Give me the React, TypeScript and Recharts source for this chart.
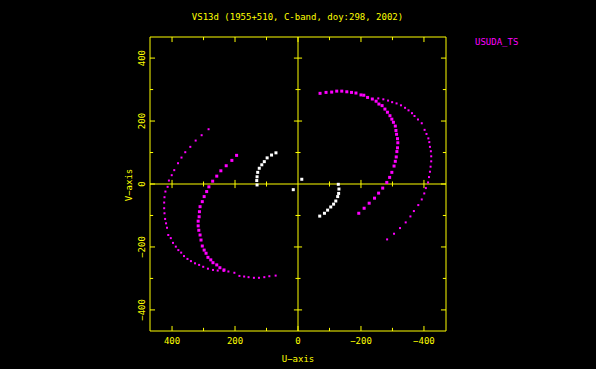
import React from 'react';
import { ScatterChart, Scatter, XAxis, YAxis, ReferenceLine, ReferenceArea } from 'recharts';

const YELLOW = '#ffff00';
const MAGENTA = '#ff00ff';
const WHITE = '#ffffff';
const FONT = '"DejaVu Sans Mono", monospace';

const title = 'VS13d (1955+510, C-band, doy:298, 2002)';
const stationName = 'USUDA_TS';
const xLabel = 'U\u2212axis';
const yLabel = 'V\u2212axis';
const axisTicks = [400, 200, 0, -200, -400];
const stepTicks = [-400, -300, -200, -100, 0, 100, 200, 300, 400];

// [u, v], upper right (top run + arc nearer the centre)
const neInner = [
  [-70, 288], [-89, 291], [-107, 292], [-123, 295], [-139, 295], [-155, 293], [-170, 291], [-184, 289], [-200, 283],
  [-209, 282], [-221, 275], [-236, 270], [-248, 263], [-257, 254], [-267, 249], [-276, 238], [-284, 228], [-292, 217],
  [-298, 206], [-303, 196], [-309, 184], [-311, 170], [-313, 158], [-316, 144], [-317, 131], [-316, 115], [-314, 103],
  [-312, 86], [-309, 72], [-305, 57], [-298, 37], [-291, 21], [-282, 5], [-269, -13], [-256, -29], [-243, -45],
  [-226, -61], [-210, -77], [-193, -93],
];

const neOuter = [
  [-255, 272], [-271, 269], [-286, 265], [-299, 260], [-313, 256], [-327, 250], [-340, 242], [-351, 234], [-362, 225],
  [-370, 216], [-381, 205], [-393, 193], [-402, 172], [-408, 159], [-414, 145], [-417, 133], [-419, 118], [-422, 104],
  [-423, 88], [-423, 72], [-421, 55], [-419, 39], [-416, 22], [-413, 5], [-406, -13], [-401, -30], [-393, -49],
  [-382, -67], [-368, -86], [-357, -103], [-342, -122], [-324, -140], [-305, -158], [-283, -176],
];

const swOuter = [
  [284, 174], [306, 155], [325, 138], [342, 118], [358, 101], [370, 84], [381, 66], [393, 44], [401, 28], [410, 11],
  [414, -9], [421, -24], [424, -42], [425, -59], [425, -77], [424, -93], [422, -111], [419, -125], [416, -139],
  [412, -162], [404, -172], [397, -187], [388, -199], [380, -210], [371, -218], [362, -229], [351, -238], [340, -245],
  [327, -252], [314, -257], [301, -263], [286, -269], [270, -273], [255, -275], [236, -276], [221, -278], [202, -282],
  [186, -292], [171, -294], [157, -296], [140, -298], [124, -298], [107, -296], [91, -293], [71, -291],
];

const swInner = [
  [195, 91], [210, 75], [228, 58], [245, 42], [258, 25], [271, 9], [283, -9], [290, -24], [298, -40], [304, -56],
  [311, -72], [313, -88], [314, -104], [317, -118], [317, -133], [315, -147], [311, -162], [308, -178], [304, -197],
  [298, -210], [292, -220], [286, -233], [277, -241], [270, -250], [258, -257], [248, -266], [235, -273],
];

const whiteNW = [[70, 99], [84, 92], [98, 83], [107, 71], [115, 61], [123, 50], [128, 37], [130, 23], [131, 11], [130, -3]];
const whiteSE = [[-128, -1], [-130, -16], [-129, -30], [-126, -40], [-120, -54], [-113, -64], [-104, -73], [-94, -83], [-84, -93], [-69, -102]];
const whiteCentre = [[-12, 15], [15, -18]];

const toPts = (a: number[][]) => a.map(([u, v]) => ({ u, v }));

const square = (size: number, color: string) => (p: any) => (
  <rect x={p.cx - size / 2} y={p.cy - size / 2} width={size} height={size} fill={color} />
);

const fmt = (v: number) => String(v).replace('-', '\u2212');

const XTick = ({ x, y, payload }: any) => (
  <text x={x} y={y + 12.5} textAnchor="middle" fill={YELLOW} fontSize={9} fontFamily={FONT}>
    {fmt(payload.value)}
  </text>
);

const YTick = ({ x, y, payload }: any) => (
  <g transform={`translate(${x - 5},${y}) rotate(-90)`}>
    <text x={0} y={0} textAnchor="middle" fill={YELLOW} fontSize={9} fontFamily={FONT}>
      {fmt(payload.value)}
    </text>
  </g>
);

const LIM = 470;
const VLIM = 467;

export default function App() {
  const major = (t: number) => t % 200 === 0;
  return (
    <div style={{ position: 'absolute', left: 0, top: 0, width: 596, height: 369, background: '#000' }}>
      <ScatterChart width={596} height={369} margin={{ top: 37, right: 150, bottom: 8, left: 110 }}>
        <XAxis
          type="number"
          dataKey="u"
          domain={[-LIM, LIM]}
          reversed
          ticks={axisTicks}
          interval={0}
          height={30}
          axisLine={false}
          tickLine={false}
          tickSize={0}
          tickMargin={0}
          tick={<XTick />}
          allowDataOverflow
        />
        <YAxis
          type="number"
          dataKey="v"
          domain={[-VLIM, VLIM]}
          ticks={axisTicks}
          interval={0}
          width={40}
          axisLine={false}
          tickLine={false}
          tickSize={0}
          tickMargin={0}
          tick={<YTick />}
          allowDataOverflow
        />
        <ReferenceArea x1={LIM} x2={-LIM} y1={-VLIM} y2={VLIM} fill="none" stroke={YELLOW} strokeWidth={1} ifOverflow="visible" />
        <ReferenceLine x={0} stroke={YELLOW} />
        <ReferenceLine y={0} stroke={YELLOW} />
        {stepTicks.map((t) => {
          const len = major(t) ? 16 : 10;
          const half = major(t) ? 13 : 8;
          return (
            <React.Fragment key={t}>
              <ReferenceLine segment={[{ x: t, y: -VLIM }, { x: t, y: -VLIM + len }]} stroke={YELLOW} />
              <ReferenceLine segment={[{ x: t, y: VLIM }, { x: t, y: VLIM - len }]} stroke={YELLOW} />
              <ReferenceLine segment={[{ x: LIM, y: t }, { x: LIM - len, y: t }]} stroke={YELLOW} />
              <ReferenceLine segment={[{ x: -LIM, y: t }, { x: -LIM + len, y: t }]} stroke={YELLOW} />
              {t !== 0 && <ReferenceLine segment={[{ x: t, y: -half }, { x: t, y: half }]} stroke={YELLOW} />}
              {t !== 0 && <ReferenceLine segment={[{ x: -half, y: t }, { x: half, y: t }]} stroke={YELLOW} />}
            </React.Fragment>
          );
        })}
        <Scatter data={toPts(neOuter)} shape={square(2, MAGENTA)} isAnimationActive={false} />
        <Scatter data={toPts(swOuter)} shape={square(2, MAGENTA)} isAnimationActive={false} />
        <Scatter data={toPts(neInner)} shape={square(3, MAGENTA)} isAnimationActive={false} />
        <Scatter data={toPts(swInner)} shape={square(3, MAGENTA)} isAnimationActive={false} />
        <Scatter data={toPts(whiteNW)} shape={square(3, WHITE)} isAnimationActive={false} />
        <Scatter data={toPts(whiteSE)} shape={square(3, WHITE)} isAnimationActive={false} />
        <Scatter data={toPts(whiteCentre)} shape={square(3, WHITE)} isAnimationActive={false} />
      </ScatterChart>
      <svg width={596} height={369} style={{ position: 'absolute', left: 0, top: 0, pointerEvents: 'none' }}>
        <text x={297.5} y={19.5} textAnchor="middle" fill={YELLOW} fontSize={9} fontFamily={FONT}>{title}</text>
        <text x={475} y={44.5} fill={MAGENTA} fontSize={9} fontFamily={FONT}>{stationName}</text>
        <text x={298} y={362} textAnchor="middle" fill={YELLOW} fontSize={9} fontFamily={FONT}>{xLabel}</text>
        <g transform="translate(132,185) rotate(-90)">
          <text x={0} y={0} textAnchor="middle" fill={YELLOW} fontSize={9} fontFamily={FONT}>{yLabel}</text>
        </g>
      </svg>
    </div>
  );
}
